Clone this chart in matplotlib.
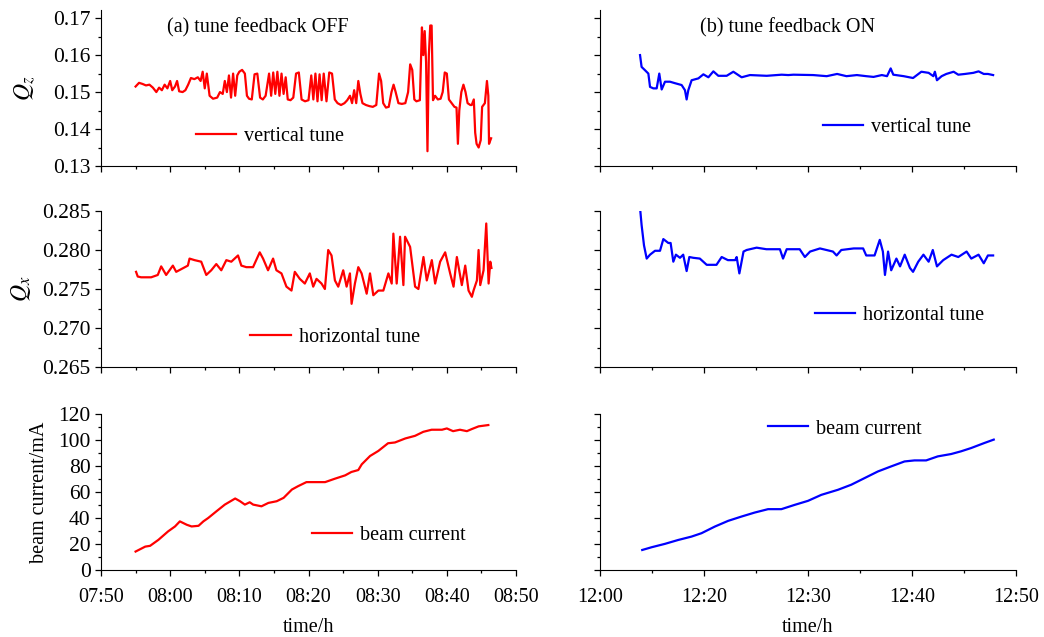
import matplotlib
matplotlib.use("Agg")
import matplotlib.pyplot as plt
from matplotlib.ticker import MultipleLocator, FormatStrFormatter

plt.rcParams['font.family'] = ['Liberation Serif', 'DejaVu Serif']
plt.rcParams['mathtext.fontset'] = 'stix'
plt.rcParams['font.size'] = 14.5

# ---- data: left column, minutes after 07:50 (tune feedback OFF) ----
t_vt_off = [5.0, 5.5, 6.0, 6.5, 7.0, 7.5, 8.0, 8.4, 8.8, 9.2, 9.6, 10.0, 10.3, 10.7, 11.0, 11.3,
            11.8, 12.2, 12.6, 13.0, 13.5, 14.0, 14.4, 14.7, 15.0, 15.3, 15.7, 16.2, 16.8, 17.2,
            17.6, 17.9, 18.2, 18.5, 18.8, 19.1, 19.4, 19.7, 20.0, 20.4, 20.8, 21.1, 21.4, 21.8,
            22.2, 22.6, 23.0, 23.4, 23.8, 24.3, 24.6, 24.9, 25.2, 25.5, 25.8, 26.1, 26.4, 26.7,
            27.0, 27.4, 27.8, 28.2, 28.6, 29.0, 29.5, 30.0, 30.4, 30.7, 31.0, 31.3, 31.6, 31.9,
            32.2, 32.6, 33.0, 33.4, 33.8, 34.2, 34.7, 35.2, 35.6, 36.0, 36.3, 36.6, 36.9, 37.2,
            37.5, 37.8, 38.3, 38.8, 39.3, 39.8, 40.2, 40.5, 40.8, 41.2, 41.6, 42.0, 42.3, 42.6,
            43.0, 43.5, 44.0, 44.4, 44.7, 45.0, 45.3, 45.6, 46.1, 46.4, 46.6, 46.8, 47.0, 47.2,
            47.4, 47.6, 47.8, 48.0, 48.3, 48.7, 49.1, 49.4, 49.7, 50.0, 50.3, 50.7, 51.1, 51.4,
            51.6, 51.8, 52.1, 52.4, 52.7, 53.0, 53.4, 53.6, 53.9, 54.1, 54.3, 54.6, 54.9, 55.1,
            55.5, 55.8, 56.0, 56.1, 56.4]
vt_off = [0.1515, 0.1525, 0.1522, 0.1518, 0.1520, 0.1512, 0.1500, 0.1512, 0.1505, 0.1520, 0.1510,
          0.1530, 0.1505, 0.1515, 0.1530, 0.1502, 0.1500, 0.1505, 0.1520, 0.1538, 0.1535, 0.1540,
          0.1530, 0.1555, 0.1510, 0.1550, 0.1490, 0.1482, 0.1485, 0.1500, 0.1495, 0.1530, 0.1500,
          0.1545, 0.1485, 0.1550, 0.1490, 0.1545, 0.1555, 0.1560, 0.1550, 0.1490, 0.1482, 0.1480,
          0.1548, 0.1550, 0.1485, 0.1480, 0.1490, 0.1550, 0.1490, 0.1553, 0.1495, 0.1555, 0.1490,
          0.1550, 0.1495, 0.1540, 0.1480, 0.1478, 0.1485, 0.1550, 0.1553, 0.1480, 0.1475, 0.1478,
          0.1545, 0.1480, 0.1550, 0.1475, 0.1548, 0.1478, 0.1550, 0.1475, 0.1553, 0.1550, 0.1480,
          0.1470, 0.1465, 0.1470, 0.1478, 0.1490, 0.1470, 0.1505, 0.1470, 0.1530, 0.1495, 0.1470,
          0.1465, 0.1462, 0.1460, 0.1465, 0.1550, 0.1530, 0.1470, 0.1458, 0.1460, 0.1500, 0.1520,
          0.1500, 0.1470, 0.1468, 0.1470, 0.1500, 0.1575, 0.1560, 0.1480, 0.1475, 0.1478, 0.1675,
          0.1600, 0.1665, 0.1580, 0.1340, 0.1600, 0.1680, 0.1680, 0.1478, 0.1490, 0.1480, 0.1482,
          0.1500, 0.1553, 0.1550, 0.1480, 0.1470, 0.1460, 0.1458, 0.1360, 0.1450, 0.1500, 0.1520,
          0.1500, 0.1470, 0.1465, 0.1465, 0.1480, 0.1390, 0.1360, 0.1350, 0.1370, 0.1460, 0.1470,
          0.1530, 0.1490, 0.1360, 0.1375]

t_ht_off = [5.07, 5.31, 5.80, 7.25, 8.21, 8.70, 9.42, 10.39, 10.87, 12.56, 12.80, 13.53, 14.49,
            15.22, 15.94, 16.67, 17.39, 18.12, 18.84, 19.81, 20.29, 21.01, 21.98, 22.95, 23.43,
            24.15, 24.88, 25.36, 26.09, 26.81, 27.54, 28.02, 28.74, 29.47, 30.19, 30.68, 31.16,
            31.88, 32.37, 32.85, 33.33, 33.82, 34.30, 35.02, 35.51, 35.99, 36.23, 36.71, 37.20,
            37.68, 38.41, 38.89, 39.37, 40.10, 40.82, 41.55, 42.03, 42.27, 42.75, 43.24, 43.72,
            43.96, 44.69, 45.41, 45.89, 46.62, 47.10, 47.83, 48.31, 49.03, 49.76, 50.48, 50.97,
            51.45, 52.17, 52.66, 53.14, 53.62, 53.86, 54.35, 54.59, 54.83, 55.31, 55.70, 56.04,
            56.28, 56.45]
ht_off = [0.2772, 0.2766, 0.2765, 0.2765, 0.2768, 0.2779, 0.2768, 0.2780, 0.2772, 0.2780, 0.2789,
          0.2787, 0.2785, 0.2768, 0.2774, 0.2782, 0.2774, 0.2787, 0.2785, 0.2793, 0.2780, 0.2778,
          0.2778, 0.2797, 0.2789, 0.2774, 0.2789, 0.2774, 0.2770, 0.2753, 0.2748, 0.2772, 0.2763,
          0.2757, 0.2770, 0.2753, 0.2763, 0.2757, 0.2750, 0.2800, 0.2793, 0.2761, 0.2753, 0.2774,
          0.2753, 0.2770, 0.2731, 0.2757, 0.2778, 0.2770, 0.2744, 0.2770, 0.2742, 0.2748, 0.2748,
          0.2770, 0.2757, 0.2821, 0.2757, 0.2817, 0.2755, 0.2817, 0.2804, 0.2753, 0.2750, 0.2791,
          0.2761, 0.2787, 0.2757, 0.2785, 0.2797, 0.2770, 0.2753, 0.2791, 0.2755, 0.2780, 0.2748,
          0.2740, 0.2748, 0.2761, 0.2800, 0.2755, 0.2774, 0.2834, 0.2757, 0.2785, 0.2777]

t_bc_off = [5.0, 6.4, 7.1, 8.3, 9.7, 10.7, 11.4, 12.4, 13.1, 14.1, 14.8, 15.5, 16.7, 17.9, 19.4,
            20.1, 20.8, 21.5, 22.0, 23.2, 24.2, 25.4, 26.4, 27.6, 28.5, 29.7, 30.9, 32.4, 33.8,
            35.3, 36.2, 37.2, 37.7, 38.9, 40.1, 41.5, 42.5, 44.0, 45.4, 46.6, 47.8, 49.3, 50.0,
            50.9, 51.9, 52.9, 53.6, 54.6, 56.0]
bc_off = [14.2, 18.0, 18.6, 23.2, 29.7, 33.5, 37.4, 34.8, 33.5, 34.0, 37.4, 40.0, 45.2, 50.3, 55.0,
          52.9, 50.3, 52.1, 50.3, 49.0, 51.6, 52.9, 55.5, 61.9, 64.5, 67.6, 67.6, 67.6, 70.2, 72.8,
          75.4, 76.9, 81.3, 87.7, 91.6, 97.5, 98.1, 101.2, 103.2, 106.3, 107.9, 107.9, 108.9,
          106.8, 107.9, 106.8, 108.4, 110.5, 111.5]

# ---- data: right column, minutes after first tick (tune feedback ON) ----
t_vt_on = [3.85, 4.0, 4.33, 4.65, 4.81, 5.13, 5.45, 5.7, 5.93, 6.25, 6.73, 7.21, 7.85, 8.17, 8.33,
           8.49, 8.81, 9.46, 9.94, 10.42, 10.9, 11.38, 12.18, 12.82, 13.62, 14.42, 16.03, 17.47,
           18.1, 18.6, 20.5, 21.8, 22.8, 23.7, 24.7, 25.6, 26.3, 27.1, 27.6, 27.95, 28.2, 29.2,
           30.1, 30.9, 31.6, 32.05, 32.2, 32.4, 32.85, 33.3, 34.0, 34.45, 35.1, 35.9, 36.4, 36.9,
           37.3, 37.8]
vt_on = [0.1600, 0.1568, 0.1559, 0.1550, 0.1514, 0.1510, 0.1510, 0.1550, 0.1507, 0.1528, 0.1528,
         0.1524, 0.1519, 0.1505, 0.1480, 0.1505, 0.1532, 0.1537, 0.1548, 0.1540, 0.1556, 0.1544,
         0.1544, 0.1555, 0.1540, 0.1546, 0.1544, 0.1547, 0.1546, 0.1547, 0.1546, 0.1543, 0.1549,
         0.1543, 0.1546, 0.1543, 0.1541, 0.1546, 0.1543, 0.1564, 0.1547, 0.1543, 0.1538, 0.1555,
         0.1552, 0.1543, 0.1555, 0.1532, 0.1543, 0.1549, 0.1555, 0.1547, 0.1549, 0.1552, 0.1556,
         0.1549, 0.1549, 0.1546]

t_ht_on = [3.85, 4.0, 4.23, 4.49, 4.81, 5.29, 5.77, 6.09, 6.57, 6.79, 7.05, 7.3, 7.69, 8.0, 8.33,
           8.59, 8.97, 9.6, 10.26, 11.2, 11.7, 12.3, 13.0, 13.14, 13.4, 13.8, 14.1, 15.06, 16.0,
           17.3, 17.6, 17.95, 19.2, 19.7, 20.2, 21.15, 22.4, 22.75, 23.2, 24.4, 25.3, 25.6, 26.4,
           26.9, 27.2, 27.4, 27.7, 28.0, 28.5, 28.85, 29.3, 29.8, 30.1, 30.6, 31.1, 31.6, 32.0,
           32.4, 33.0, 33.8, 34.45, 35.25, 35.7, 36.4, 36.9, 37.3, 37.8]
ht_on = [0.2854, 0.2832, 0.2806, 0.2789, 0.2794, 0.2799, 0.2799, 0.2814, 0.2809, 0.2809, 0.2785,
         0.2794, 0.2790, 0.2794, 0.2773, 0.2791, 0.2790, 0.2789, 0.2781, 0.2781, 0.2791, 0.2787,
         0.2787, 0.2791, 0.2770, 0.2798, 0.2800, 0.2803, 0.2801, 0.2801, 0.2789, 0.2801, 0.2801,
         0.2791, 0.2798, 0.2802, 0.2798, 0.2793, 0.2800, 0.2802, 0.2802, 0.2793, 0.2793, 0.2813,
         0.2798, 0.2768, 0.2798, 0.2774, 0.2789, 0.2779, 0.2794, 0.2777, 0.2772, 0.2785, 0.2794,
         0.2785, 0.2800, 0.2779, 0.2787, 0.2794, 0.2791, 0.2798, 0.2789, 0.2794, 0.2783, 0.2793,
         0.2793]

t_bc_on = [4.06, 4.96, 6.24, 7.52, 8.8, 9.76, 11.04, 12.32, 13.6, 14.88, 16.16, 17.44, 18.72, 20.0,
           21.28, 22.88, 24.16, 25.44, 26.72, 28.0, 29.28, 30.24, 31.36, 32.48, 33.76, 34.72,
           35.68, 36.96, 37.86]
bc_on = [15.4, 17.5, 20.1, 23.1, 25.7, 28.3, 33.4, 37.8, 41.1, 44.2, 46.8, 46.8, 50.1, 53.2, 57.8,
         61.7, 65.6, 70.7, 75.8, 79.7, 83.5, 84.3, 84.3, 87.4, 89.2, 91.3, 93.8, 97.7, 100.3]

xlabels_off = ["07:50", "08:00", "08:10", "08:20", "08:30", "08:40", "08:50"]
xlabels_on = ["12:00", "12:20", "12:30", "12:40", "12:50"]

W, H = 1044, 637
fig = plt.figure(figsize=(W / 100, H / 100), dpi=100)


def make_ax(x0, x1, ytop, ybot):
    ax = fig.add_axes([x0 / W, 1 - ybot / H, (x1 - x0) / W, (ybot - ytop) / H])
    ax.spines['top'].set_visible(False)
    ax.spines['right'].set_visible(False)
    ax.tick_params(which='major', direction='out', length=4, width=0.9)
    ax.tick_params(which='minor', direction='out', length=2.5, width=0.9)
    ax.tick_params(axis='y', labelsize=15.5)
    ax.tick_params(axis='x', labelsize=14.5)
    return ax


rows = [(10, 166), (211, 367), (414, 570)]
cols = [(101, 516), (600, 1016)]

axes = [[make_ax(c[0], c[1], r[0], r[1]) for c in cols] for r in rows]

series = [
    [(t_vt_off, vt_off, 'vertical tune'), (t_vt_on, vt_on, 'vertical tune')],
    [(t_ht_off, ht_off, 'horizontal tune'), (t_ht_on, ht_on, 'horizontal tune')],
    [(t_bc_off, bc_off, 'beam current'), (t_bc_on, bc_on, 'beam current')],
]
colors = ['#ff0000', '#0000ff']
leg_pos = [[(0.229, 0.192), (0.536, 0.244)],
           [(0.360, 0.192), (0.517, 0.333)],
           [(0.508, 0.224), (0.404, 0.904)]]
ylims = [(0.13, 0.1722), (0.265, 0.285), (0, 120)]
ymaj = [0.01, 0.005, 20]
ymin = [0.005, 0.0025, 10]
yfmt = ['%.2f', '%.3f', '%d']

for i in range(3):
    for j in range(2):
        ax = axes[i][j]
        t, v, lab = series[i][j]
        ax.plot(t, v, color=colors[j], lw=1.6, label=lab)
        ax.set_ylim(*ylims[i])
        ax.yaxis.set_major_locator(MultipleLocator(ymaj[i]))
        ax.yaxis.set_minor_locator(MultipleLocator(ymin[i]))
        ax.yaxis.set_major_formatter(FormatStrFormatter(yfmt[i]))
        if j == 0:
            ax.set_xlim(0, 60)
            ax.set_xticks(range(0, 61, 10))
            ax.set_xticklabels(xlabels_off)
        else:
            ax.set_xlim(0, 40)
            ax.set_xticks(range(0, 41, 10))
            ax.set_xticklabels(xlabels_on)
            ax.tick_params(axis='y', labelleft=False)
        ax.xaxis.set_minor_locator(MultipleLocator(5))
        if i < 2:
            ax.tick_params(axis='x', labelbottom=False)
        else:
            ax.tick_params(axis='x', pad=9)
            ax.set_xlabel('time/h', labelpad=8)
        ax.legend(loc='center left', bbox_to_anchor=leg_pos[i][j], frameon=False,
                  borderpad=0, borderaxespad=0, handlelength=2.0, handletextpad=0.4,
                  fontsize=14.5)

axes[0][0].set_ylabel('$Q_z$', fontsize=17)
axes[0][0].yaxis.set_label_coords(-0.153, 0.5)
axes[1][0].set_ylabel('$Q_x$', fontsize=17)
axes[1][0].yaxis.set_label_coords(-0.165, 0.5)
axes[2][0].set_ylabel('beam current/mA')
axes[2][0].yaxis.set_label_coords(-0.125, 0.5)

axes[0][0].text(0.159, 0.885, '(a) tune feedback OFF', transform=axes[0][0].transAxes,
                ha='left', va='center')
axes[0][1].text(0.24, 0.885, '(b) tune feedback ON', transform=axes[0][1].transAxes,
                ha='left', va='center')

fig.savefig('out.png', dpi=100)
